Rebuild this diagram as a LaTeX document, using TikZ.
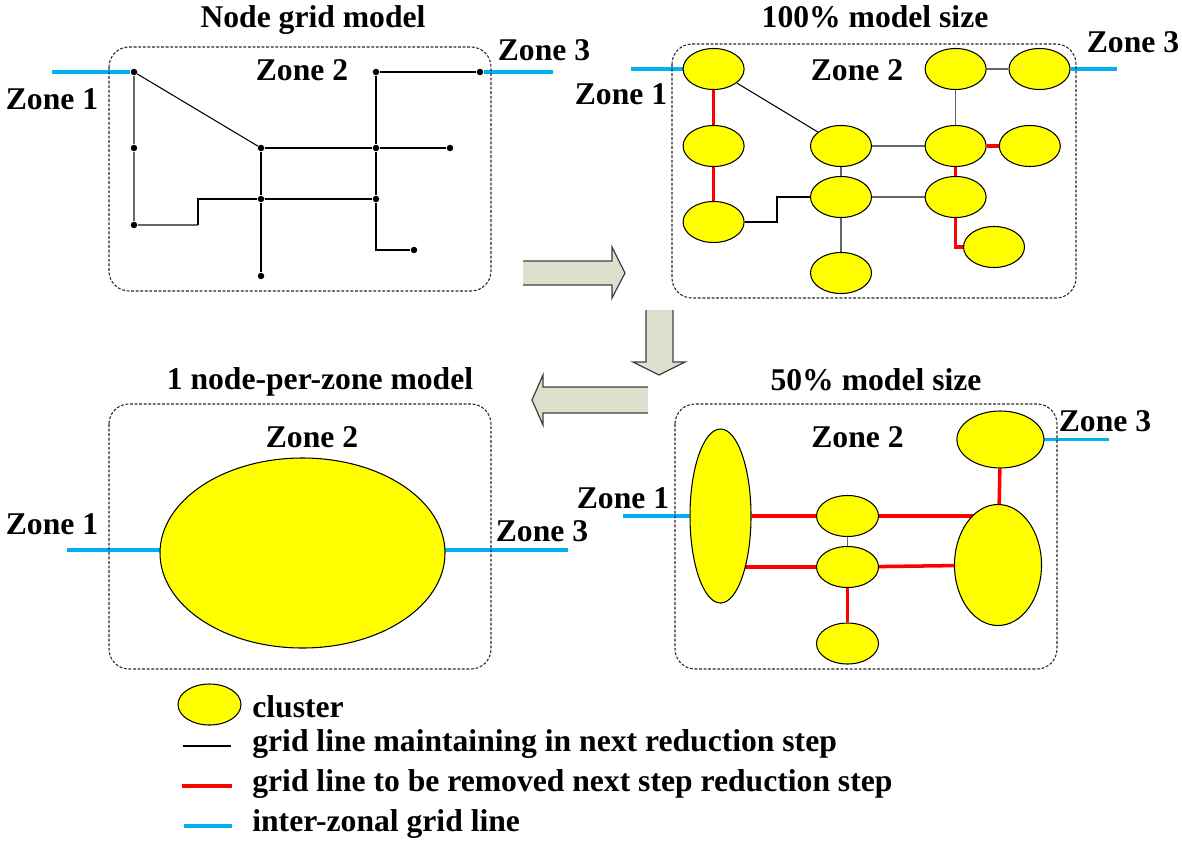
\documentclass[tikz,border=0pt]{standalone}
\usepackage{fontspec}
\setmainfont{Liberation Serif}
\usetikzlibrary{shapes.geometric,backgrounds}
\definecolor{zblue}{RGB}{0,176,240}
\definecolor{zred}{RGB}{255,0,0}
\definecolor{zyellow}{RGB}{255,255,0}
\definecolor{arrowfill}{RGB}{221,224,204}
\begin{document}
\begin{tikzpicture}[x=0.02cm,y=-0.02cm,font=\fontsize{18}{22}\selectfont\bfseries,
  cl/.style 2 args={ellipse,draw=black,line width=0.6pt,fill=zyellow,inner sep=0pt,minimum width=#1*0.02cm,minimum height=#2*0.02cm},
  dot/.style={circle,fill=black,inner sep=0pt,minimum size=0.13cm},
  zonebox/.style={draw=black!85,dash pattern=on 1.6pt off 1pt,line width=0.6pt,rounded corners=0.4cm},
  lbl/.style={inner sep=0pt,anchor=base},
  leg/.style={inner sep=0pt,anchor=base west},
  blk/.style={draw=black,line width=0.6pt},
  gry/.style={draw=black!60,line width=0.9pt},
  redl/.style={draw=zred,line width=2pt},
  bluel/.style={draw=zblue,line width=2pt},
  arr/.style={fill=arrowfill},
  arrline/.style={draw=black!75,line width=0.7pt,line join=miter}]
\useasboundingbox (0,0) rectangle (1182,841);

% ---------- block arrows ----------
\fill[arr] (523,261) -- (612,261) -- (612,247) -- (625,273) -- (612,298) -- (612,285) -- (523,285) -- cycle;
\draw[arrline] (523,261) -- (612,261) -- (612,247) -- (625,273) -- (612,298) -- (612,285) -- (523,285);
\fill[arr] (646,310) -- (646,362) -- (633,362) -- (659,375) -- (685,362) -- (673,362) -- (673,310) -- cycle;
\draw[arrline] (646,310) -- (646,362) -- (633,362) -- (659,375) -- (685,362) -- (673,362) -- (673,310);
\fill[arr] (648,387) -- (543,387) -- (543,375) -- (532,400) -- (543,425) -- (543,413) -- (648,413) -- cycle;
\draw[arrline] (648,387) -- (543,387) -- (543,375) -- (532,400) -- (543,425) -- (543,413) -- (648,413);

% ---------- zone boxes ----------
\draw[zonebox] (109,47) rectangle (491,291);
\draw[zonebox] (672,44) rectangle (1076,298);
\draw[zonebox] (109,404) rectangle (491,669);
\draw[zonebox] (675,404) rectangle (1057,669);

% ---------- titles ----------
\node[lbl] (t1) at (313,28) {Node grid model};
\node[lbl] (t2) at (875,28) {100\% model size};
\node[lbl] (t3) at (320,389) {1 node-per-zone model};
\node[lbl] (t4) at (876,390) {50\% model size};

% ---------- box 1: node grid ----------
\node[lbl] (b1z2) at (302,81) {Zone 2};
\node[lbl] (b1z1) at (52,110) {Zone 1};
\node[lbl] (b1z3) at (544,61) {Zone 3};
\node[dot] (A) at (134,72) {};
\node[dot] (B) at (134,148) {};
\node[dot] (C) at (134,225) {};
\node[dot] (D) at (261,148) {};
\node[dot] (E) at (261,199) {};
\node[dot] (F) at (261,276) {};
\node[dot] (G) at (376,72) {};
\node[dot] (H) at (376,148) {};
\node[dot] (I) at (376,199) {};
\node[dot] (J) at (450,148) {};
\node[dot] (K) at (414,250) {};
\node[dot] (L) at (480,72) {};
\coordinate (b1l) at (52,72);
\coordinate (b1r) at (553,72);
\coordinate (b1s) at (198,225);
\begin{pgfonlayer}{background}
\draw[gry] (A) -- (B) -- (C) -- (b1s);
\draw[blk] (b1s) |- (E);
\draw[blk] (A) -- (D);
\draw[blk] (D) -- (H) -- (J);
\draw[blk] (E) -- (I);
\draw[blk] (D) -- (E) -- (F);
\draw[blk] (G) -- (H) -- (I);
\draw[blk] (I) |- (K);
\draw[blk] (G) -- (L);
\draw[bluel] (b1l) -- (A);
\draw[bluel] (L) -- (b1r);
\end{pgfonlayer}

% ---------- box 2: 100% ----------
\node[lbl] (b2z2) at (857,81) {Zone 2};
\node[lbl] (b2z1) at (621,105) {Zone 1};
\node[lbl] (b2z3) at (1133,53) {Zone 3};
\node[cl={61}{41}] (e1) at (713.6,69) {};
\node[cl={61}{41}] (e2) at (713.6,146) {};
\node[cl={61}{41}] (e3) at (713.6,222) {};
\node[cl={61}{41}] (e4) at (841,146) {};
\node[cl={61}{41}] (e5) at (841,197) {};
\node[cl={61}{41}] (e6) at (841,273) {};
\node[cl={61}{41}] (e7) at (955.6,69) {};
\node[cl={61}{41}] (e8) at (1039.5,69) {};
\node[cl={61}{41}] (e9) at (955.6,146) {};
\node[cl={61}{41}] (e10) at (1029.8,146) {};
\node[cl={61}{41}] (e11) at (955.6,197) {};
\node[cl={61}{41}] (e12) at (994,247) {};
\coordinate (b2l) at (631,69);
\coordinate (b2r) at (1117,69);
\coordinate (b2s) at (777,222);
\begin{pgfonlayer}{background}
\draw[redl] (e1) -- (e2) -- (e3);
\draw[blk] (e1) -- (e4);
\draw[blk] (e3) -- (b2s) |- (e5);
\draw[gry] (e4) -- (e9);
\draw[gry] (e4) -- (e5) -- (e6);
\draw[gry] (e5) -- (e11);
\draw[gry] (e7) -- (e8);
\draw[gry] (e7) -- (e9);
\draw[redl] (e9) -- (e10);
\draw[redl] (e9) -- (e11);
\draw[redl] (e11) |- (e12);
\draw[bluel] (b2l) -- (e1);
\draw[bluel] (e8) -- (b2r);
\end{pgfonlayer}

% ---------- box 3: 1 node per zone ----------
\node[lbl] (b3z2) at (312,447) {Zone 2};
\node[lbl] (b3z1) at (52,534) {Zone 1};
\node[lbl] (b3z3) at (542,541) {Zone 3};
\node[cl={285}{190}] (big) at (302.5,553) {};
\coordinate (b3l) at (67,550);
\coordinate (b3r) at (568,550);
\begin{pgfonlayer}{background}
\draw[bluel] (b3l) -- (b3l -| big);
\draw[bluel] (b3r) -- (b3r -| big);
\end{pgfonlayer}

% ---------- box 4: 50% ----------
\node[lbl] (b4z2) at (857.5,447) {Zone 2};
\node[lbl] (b4z1) at (623,508) {Zone 1};
\node[lbl] (b4z3) at (1105,431) {Zone 3};
\node[cl={61}{174}] (cL) at (720.5,516) {};
\node[cl={62}{41}] (m1) at (847.5,516) {};
\node[cl={62}{41}] (m2) at (847.5,567) {};
\node[cl={62}{41}] (m3) at (847.5,643.5) {};
\node[cl={87}{57}] (cZ) at (1000.4,439.5) {};
\node[cl={87}{121}] (cR) at (998,565) {};
\coordinate (b4l) at (623,516);
\coordinate (b4r) at (1109,439.5);
\begin{pgfonlayer}{background}
\draw[redl] (cL) -- (m1);
\draw[redl] (m1) -- (m1 -| cR);
\draw[redl] (m2) -- (m2 -| cL);
\draw[redl] (m2) -- (cR);
\draw[redl] (cZ) -- (cR);
\draw[gry] (m1) -- (m2);
\draw[redl] (m2) -- (m3);
\draw[bluel] (b4l) -- (cL);
\draw[bluel] (cZ) -- (b4r);
\end{pgfonlayer}

% ---------- legend ----------
\node[cl={63}{41}] (lc) at (209.5,704.5) {};
\node[leg] (lt1) at (252,717) {cluster};
\coordinate (lb1) at (183,746);
\coordinate (lb2) at (231,746);
\draw[blk] (lb1) -- (lb2);
\node[leg] (lt2) at (252,751) {grid line maintaining in next reduction step};
\coordinate (lr1) at (182,786);
\coordinate (lr2) at (232,786);
\draw[redl] (lr1) -- (lr2);
\node[leg] (lt3) at (252,791) {grid line to be removed next step reduction step};
\coordinate (lz1) at (184,826);
\coordinate (lz2) at (232,826);
\draw[bluel] (lz1) -- (lz2);
\node[leg] (lt4) at (252,831) {inter-zonal grid line};
\end{tikzpicture}
\end{document}
